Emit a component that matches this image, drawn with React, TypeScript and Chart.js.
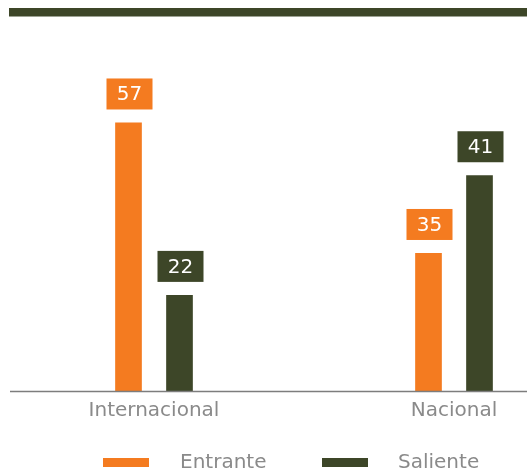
import React, { useEffect, useRef } from "react";
import { Chart, registerables } from "chart.js";

Chart.register(...registerables);

// Data
const categories = ["Internacional", "Nacional"];
const seriesNames = ["Entrante", "Saliente"];
// printed value labels
const entranteLabels = [57, 35];
const salienteLabels = [22, 41];
// drawn bar heights (the reference bars are not drawn to the printed values' scale)
const entranteBars = [57, 29.3];
const salienteBars = [20.4, 45.8];

const ORANGE = "#F47B20";
const DARK = "#3D4628";
const GREY = "#8a8a8a";
const FONT = "'DejaVu Sans', sans-serif";

const valueLabels = [entranteLabels, salienteLabels];
const seriesColors = [ORANGE, DARK];

const decorPlugin = {
  id: "decor",
  beforeDraw(chart: any) {
    const ctx = chart.ctx;
    ctx.save();
    ctx.fillStyle = DARK;
    ctx.fillRect(9, 8, 518, 8.5);
    ctx.restore();
  },
  afterDatasetsDraw(chart: any) {
    const ctx = chart.ctx;
    ctx.save();
    // axis line
    ctx.strokeStyle = "#7d7d7d";
    ctx.lineWidth = 1.5;
    ctx.beginPath();
    ctx.moveTo(10, chart.chartArea.bottom + 0.5);
    ctx.lineTo(527, chart.chartArea.bottom + 0.5);
    ctx.stroke();
    // value labels
    chart.data.datasets.forEach((ds: any, di: number) => {
      const meta = chart.getDatasetMeta(di);
      meta.data.forEach((el: any, i: number) => {
        const w = 46;
        const h = 31;
        const x = el.x + 1 - w / 2;
        const y = el.y - 13 - h;
        ctx.fillStyle = seriesColors[di];
        ctx.fillRect(x, y, w, h);
        ctx.fillStyle = "#ffffff";
        ctx.font = `20px ${FONT}`;
        ctx.textAlign = "center";
        ctx.textBaseline = "middle";
        ctx.fillText(String(valueLabels[di][i]), x + w / 2, y + h / 2 + 1);
      });
    });
    // legend
    const items = [
      { box: 103, text: 180 },
      { box: 322, text: 398 },
    ];
    items.forEach((it, i) => {
      ctx.fillStyle = seriesColors[i];
      ctx.fillRect(it.box, 458, 46, 9);
      ctx.fillStyle = GREY;
      ctx.font = `20px ${FONT}`;
      ctx.textAlign = "left";
      ctx.textBaseline = "middle";
      ctx.fillText(seriesNames[i], it.text, 463);
    });
    ctx.restore();
  },
};

export default function App() {
  const ref = useRef<HTMLCanvasElement | null>(null);
  useEffect(() => {
    if (!ref.current) return;
    const chart = new Chart(ref.current, {
      type: "bar",
      data: {
        labels: categories,
        datasets: [
          {
            label: seriesNames[0],
            data: entranteBars,
            backgroundColor: ORANGE,
          },
          {
            label: seriesNames[1],
            data: salienteBars,
            backgroundColor: DARK,
          },
        ],
      },
      options: {
        animation: false,
        responsive: false,
        devicePixelRatio: 1,
        categoryPercentage: 0.34,
        barPercentage: 0.523,
        layout: { padding: { left: 4, right: 16, top: 0, bottom: 0 } },
        plugins: {
          legend: { display: false },
          tooltip: { enabled: false },
        },
        scales: {
          x: {
            grid: { display: false, drawTicks: false },
            border: { display: false },
            ticks: {
              color: GREY,
              font: { family: FONT, size: 20 },
              padding: 8,
              maxRotation: 0,
            },
            afterFit: (s: any) => {
              s.height = 81;
            },
          },
          y: {
            display: false,
            min: 0,
            max: 83,
          },
        },
      },
      plugins: [decorPlugin],
    });
    return () => chart.destroy();
  }, []);
  return (
    <div
      style={{
        position: "fixed",
        left: 0,
        top: 0,
        width: 527,
        height: 472,
        overflow: "hidden",
        background: "#fff",
      }}
    >
      <canvas
        ref={ref}
        width={620}
        height={472}
        style={{ width: 620, height: 472, display: "block" }}
      />
    </div>
  );
}
